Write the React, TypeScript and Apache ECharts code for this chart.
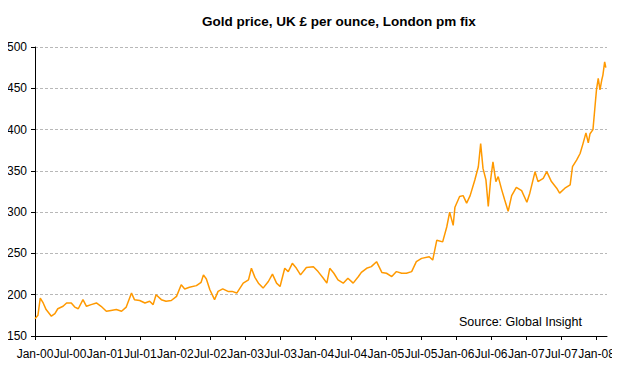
import React, { useEffect, useRef } from "react";
import * as echarts from "echarts";

// months since Jan 2000 (fractional) and gold price, UK £ per ounce
const months = [
  0, 0.5, 0.9, 1.4, 1.9, 2.8, 3.4, 3.9, 4.8, 5.4, 6.2, 6.8, 7.4, 8.2, 8.8, 9.6, 10.5, 11.3,
  12.2, 13.0, 13.9, 14.8, 15.6, 16.5, 17.0, 17.9, 18.8, 19.6, 20.2, 20.7, 21.6, 22.4, 23.3,
  24.2, 25.0, 25.6, 26.4, 27.6, 28.4, 28.8, 29.3, 29.9, 30.7, 31.3, 32.1, 33.0, 33.7, 34.5,
  35.6, 36.5, 37.0, 37.6, 38.2, 39.0, 39.9, 40.6, 41.3, 41.9, 42.7, 43.3, 44.0, 44.7, 45.4,
  46.4, 47.6, 48.4, 49.3, 49.9, 50.4, 51.1, 51.8, 52.7, 53.5, 54.4, 55.3, 55.8, 56.7, 57.5,
  58.4, 59.3, 60.1, 61.0, 61.8, 62.7, 63.5, 64.4, 65.2, 66.1, 67.4, 68.0, 68.7, 69.7, 70.4,
  70.9, 71.5, 71.8, 72.6, 73.2, 73.8, 74.4, 75.2, 75.8, 76.2, 76.6, 77.1, 77.5, 77.9, 78.3,
  78.8, 79.2, 79.8, 80.3, 80.9, 81.5, 82.3, 83.2, 84.1, 84.6, 85.5, 86.0, 86.9, 87.5, 88.3,
  89.2, 89.7, 90.6, 91.5, 91.9, 92.6, 93.2, 93.7, 94.2, 94.6, 94.9, 95.4, 95.7, 96.0, 96.3,
  96.6, 96.9, 97.1, 97.4, 97.6,
];
const prices = [
  171, 175, 196, 190, 182, 174, 177, 183, 186, 190, 190, 185, 183, 194, 186, 188, 190, 186,
  180, 181, 182, 180, 185, 202, 194, 193, 190, 192, 188, 200, 194, 192, 193,
  198, 212, 207, 209, 211, 215, 224, 219, 206, 194, 204, 207, 204, 204, 202,
  214, 218, 232, 221, 214, 208, 216, 225, 214, 210, 232, 228, 238, 232, 224,
  233, 234, 228, 220, 214, 232, 226, 218, 214, 220, 214, 222, 227, 232, 234,
  240, 227, 226, 222, 228, 226, 226, 228, 240, 244, 246, 242, 266, 264, 282,
  300, 284, 306, 319, 320, 311, 320, 339, 355, 383, 353, 339, 307, 339, 361,
  337, 343, 327, 315, 301, 320, 330, 326, 312, 323, 349, 337, 341, 349, 337,
  329, 323, 329, 333, 355, 363, 371, 383, 396, 384, 395, 400, 424, 448, 462,
  448, 460, 466, 482, 475,
];
const tickMonths = [0, 6, 12, 18, 24, 30, 36, 42, 48, 54, 60, 66, 72, 78, 84, 90, 96];
const tickLabels = [
  "Jan-00", "Jul-00", "Jan-01", "Jul-01", "Jan-02", "Jul-02", "Jan-03", "Jul-03", "Jan-04",
  "Jul-04", "Jan-05", "Jul-05", "Jan-06", "Jul-06", "Jan-07", "Jul-07", "Jan-08",
];
const titleText = "Gold price, UK £ per ounce, London pm fix";
const sourceText = "Source: Global Insight";

export default function App() {
  const ref = useRef<HTMLDivElement>(null);
  useEffect(() => {
    if (!ref.current) return;
    const chart = echarts.init(ref.current, null, { renderer: "svg" });
    const font = "Arial, 'Liberation Sans', sans-serif";
    chart.setOption({
      animation: false,
      backgroundColor: "#fff",
      textStyle: { fontFamily: font },
      title: {
        text: titleText,
        left: 197,
        top: 9,
        textStyle: { fontSize: 13.5, fontWeight: "bold", color: "#000", fontFamily: font },
      },
      grid: { left: 35, right: 13, top: 47, bottom: 32, containLabel: false },
      xAxis: {
        type: "value",
        min: 0,
        max: 97.8,
        splitLine: { show: false },
        axisLine: { show: true, onZero: false, lineStyle: { color: "#000", width: 1 } },
        axisTick: { show: true, length: 4, customValues: tickMonths, lineStyle: { color: "#000" } },
        axisLabel: {
          customValues: tickMonths,
          margin: 12,
          fontSize: 12,
          color: "#000",
          fontFamily: font,
          formatter: (v: number) => {
            const i = tickMonths.indexOf(Math.round(v));
            return i >= 0 ? tickLabels[i] : "";
          },
        },
      },
      yAxis: {
        type: "value",
        min: 150,
        max: 500,
        interval: 50,
        axisLine: { show: true, lineStyle: { color: "#000", width: 1 } },
        axisTick: { show: true, length: 4, lineStyle: { color: "#000" } },
        axisLabel: { margin: 8, fontSize: 12, color: "#000", fontFamily: font },
        splitLine: { show: true, lineStyle: { color: "#b8b8b8", type: [3, 2], width: 1 } },
      },
      graphic: [
        {
          type: "text",
          left: 459,
          top: 315,
          style: { text: sourceText, fill: "#000", font: `12.5px ${font}` },
        },
      ],
      series: [
        {
          type: "line",
          data: months.map((m, i) => [m, prices[i]]),
          showSymbol: false,
          symbol: "none",
          lineStyle: { color: "#ff9900", width: 1.5 },
        },
      ],
    });
    return () => chart.dispose();
  }, []);
  return <div ref={ref} style={{ width: 620, height: 368, margin: -8 }} />;
}
